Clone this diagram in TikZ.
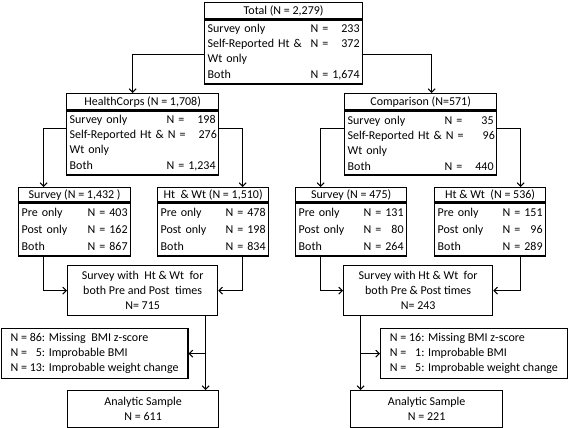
\documentclass[tikz,border=0pt]{standalone}
\usepackage{fontspec}
\setmainfont{Carlito}
\usetikzlibrary{arrows.meta,positioning}
\tikzset{
    flow-box/.style = {draw, line width=1.3pt, rectangle, inner sep=0pt, anchor=north west},
    flow-title/.style = {flow-box, align=center},
    flow-body/.style = {flow-box, inner xsep=3pt, align=left},
    flow-note/.style = {flow-box, align=center, inner sep=3pt},
    flow-arrow/.style = {-{Straight Barb[length=3.5pt,width=7pt]}, line width=1pt},
}
\newcommand{\bigrow}[2]{\makebox[\linewidth][s]{#1\hfill\ N = \hphantom{1,674}\llap{#2}}}
\newcommand{\smallrow}[2]{\makebox[\linewidth][s]{#1\hfill N = \hphantom{000}\llap{#2}}}
\newcommand{\droprow}[2]{N = \hphantom{00}\llap{#1}: #2}

\begin{document}
\begin{tikzpicture}[x=1pt, y=-1pt, font=\fontsize{12}{15}\selectfont]
\useasboundingbox (0,0) rectangle (568,428);

% whole sample
\node[flow-title, minimum width=158pt, minimum height=16pt] (total) at (204,2) {Total (N = 2,279)};
\node[flow-body, below=0pt of total, text width=152pt, minimum height=64pt] (total-body)
    {\bigrow{Survey only}{233}\\ \bigrow{Self-Reported Ht \&}{372}\\ Wt only\\[1pt] \bigrow{Both}{1,674}};

% the two groups
\node[flow-title, minimum width=152pt, minimum height=16pt] (hc) at (66,93) {HealthCorps (N = 1,708)};
\node[flow-body, below=0pt of hc, text width=146pt, minimum height=64pt] (hc-body)
    {\bigrow{Survey only}{198}\\ \bigrow{Self-Reported Ht \&}{276}\\ Wt only\\[1pt] \bigrow{Both}{1,234}};
\node[flow-title, minimum width=152pt, minimum height=16pt] (cmp) at (344,93) {Comparison (N=571)};
\node[flow-body, below=0pt of cmp, text width=146pt, minimum height=64pt] (cmp-body)
    {\bigrow{Survey only}{35}\\ \bigrow{Self-Reported Ht \&}{96}\\ Wt only\\[1pt] \bigrow{Both}{440}};

% survey and ht/wt per group
\node[flow-title, minimum width=112pt, minimum height=14pt] (svA) at (18,187) {Survey (N = 1,432 )};
\node[flow-body, below=0pt of svA, text width=106pt, minimum height=53pt] (svA-body)
    {\smallrow{Pre only}{403}\\[2pt] \smallrow{Post only}{162}\\[2pt] \smallrow{Both}{867}};
\node[flow-title, minimum width=111pt, minimum height=14pt] (htA) at (157,187) {Ht\ \ \& Wt (N = 1,510)};
\node[flow-body, below=0pt of htA, text width=105pt, minimum height=53pt] (htA-body)
    {\smallrow{Pre only}{478}\\[2pt] \smallrow{Post only}{198}\\[2pt] \smallrow{Both}{834}};
\node[flow-title, minimum width=111pt, minimum height=14pt] (svB) at (295,187) {Survey (N = 475)};
\node[flow-body, below=0pt of svB, text width=105pt, minimum height=53pt] (svB-body)
    {\smallrow{Pre only}{131}\\[2pt] \smallrow{Post only}{80}\\[2pt] \smallrow{Both}{264}};
\node[flow-title, minimum width=111pt, minimum height=14pt] (htB) at (434,187) {Ht \& Wt\ \ (N = 536)};
\node[flow-body, below=0pt of htB, text width=105pt, minimum height=53pt] (htB-body)
    {\smallrow{Pre only}{151}\\[2pt] \smallrow{Post only}{96}\\[2pt] \smallrow{Both}{289}};

% matched pre/post
\node[flow-note, minimum width=150pt, minimum height=50pt] (bothA) at (67,265)
    {Survey with\ \ Ht \& Wt\ \ for\\ both Pre and Post\ \ times\\ N= 715};
\node[flow-note, minimum width=149pt, minimum height=50pt] (bothB) at (343,265)
    {Survey with Ht \& Wt\ \ for\\ both Pre \& Post times\\ N= 243};

% exclusions
\node[flow-box, align=left, minimum width=186.5pt, minimum height=50pt] (exA) at (0.7,328)
    {\droprow{86}{Missing\ \ BMI z-score}\\ \droprow{5}{Improbable BMI}\\ \droprow{13}{Improbable weight change}};
\node[flow-box, align=left, minimum width=186.5pt, minimum height=50pt] (exB) at (380,328)
    {\droprow{16}{Missing BMI z-score}\\ \droprow{1}{Improbable BMI}\\ \droprow{5}{Improbable weight change}};

% final samples
\node[flow-note, minimum width=151pt, minimum height=37pt] (anA) at (67,390) {Analytic Sample\\ N = 611};
\node[flow-note, minimum width=152pt, minimum height=37pt] (anB) at (350,390) {Analytic Sample\\ N = 221};

\draw[flow-arrow] ([yshift=-3pt]total-body.west) -| ([xshift=-10pt]hc.north);
\draw[flow-arrow] ([yshift=-3pt]total-body.east) -| ([xshift=11pt]cmp.north);

\draw[flow-arrow] ([yshift=14pt]hc-body.west) -| ([xshift=-31pt]svA.north);
\draw[flow-arrow] ([yshift=14pt]hc-body.east) -| ([xshift=29.5pt]htA.north);
\draw[flow-arrow] ([yshift=14pt]cmp-body.west) -| ([xshift=-30.5pt]svB.north);
\draw[flow-arrow] ([yshift=14pt]cmp-body.east) -| ([xshift=30.5pt]htB.north);

\draw[flow-arrow] ([xshift=-31pt]svA-body.south) |- (bothA.west);
\draw[flow-arrow] ([xshift=29.5pt]htA-body.south) |- (bothA.east);
\draw[flow-arrow] ([xshift=-30.5pt]svB-body.south) |- (bothB.west);
\draw[flow-arrow] ([xshift=30.5pt]htB-body.south) |- (bothB.east);

\draw[flow-arrow] ([xshift=63pt]bothA.south) -- ([xshift=63pt]bothA.south |- anA.north);
\draw[flow-arrow] ([xshift=63pt]bothA.south |- exA.east) -- (exA.east);
\draw[flow-arrow] ([xshift=-57.5pt]bothB.south) -- ([xshift=-57.5pt]bothB.south |- anB.north);
\draw[flow-arrow] ([xshift=-57.5pt]bothB.south |- exB.west) -- (exB.west);
\end{tikzpicture}
\end{document}
